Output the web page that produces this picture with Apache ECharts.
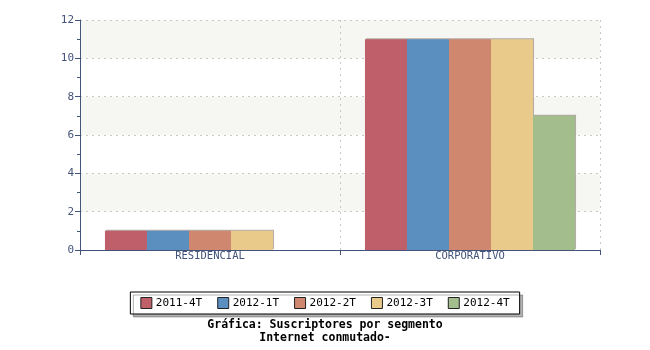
<!DOCTYPE html>
<html><head><meta charset="utf-8">
<script src="https://cdn.jsdelivr.net/npm/echarts@6/dist/echarts.min.js"></script>
<style>html,body{margin:0;padding:0;background:#fff}#c{width:650px;height:350px}</style>
</head><body><div id="c"></div>
<script>
var categories = ['RESIDENCIAL', 'CORPORATIVO'];
var seriesNames = ['2011-4T', '2012-1T', '2012-2T', '2012-3T', '2012-4T'];
var s2011_4T = [1, 11];
var s2012_1T = [1, 11];
var s2012_2T = [1, 11];
var s2012_3T = [1, 11];
var s2012_4T = [null, 7];
var yTicks = [0, 2, 4, 6, 8, 10, 12];
var values = [s2011_4T, s2012_1T, s2012_2T, s2012_3T, s2012_4T];
var colors = ['#bf5f6a', '#5b8fbf', '#d0876f', '#e9ca8b', '#a3bd8c'];
var axisColor = '#44537a';
var mono = '"DejaVu Sans Mono", monospace';

var chart = echarts.init(document.getElementById('c'));
chart.setOption({
  animation: false,
  color: colors,
  title: {
    text: 'Gráfica: Suscriptores por segmento\nInternet conmutado-',
    left: 320, textAlign: 'center', top: 314,
    textStyle: {fontFamily: mono, fontSize: 11.5, fontWeight: 'bold', color: '#000', lineHeight: 13}
  },
  legend: {
    data: seriesNames, top: 292, left: 'center',
    itemWidth: 11, itemHeight: 11, itemGap: 15,
    padding: [5, 10],
    borderColor: '#000', borderWidth: 1, backgroundColor: '#fff',
    shadowColor: 'rgba(0,0,0,0.3)', shadowOffsetX: 3, shadowOffsetY: 3, shadowBlur: 0,
    icon: 'rect',
    itemStyle: {borderColor: '#222', borderWidth: 1},
    textStyle: {fontFamily: mono, fontSize: 11, color: '#000', padding: [0, 0, 0, -1]}
  },
  grid: {left: 80, right: 50, top: 20, bottom: 100},
  xAxis: {
    type: 'category', data: categories,
    axisLine: {lineStyle: {color: axisColor, width: 1}},
    axisTick: {show: true, length: 5, lineStyle: {color: axisColor}},
    axisLabel: {fontFamily: mono, fontSize: 10.5, color: axisColor, margin: 1},
    splitLine: {show: true, lineStyle: {color: '#c8c8c8', type: [2, 4]}}
  },
  yAxis: {
    type: 'value', min: 0, max: 12, interval: 2,
    axisLine: {show: true, lineStyle: {color: axisColor, width: 1}},
    axisTick: {show: true, length: 5, lineStyle: {color: axisColor}},
    minorTick: {show: true, splitNumber: 2, length: 3, lineStyle: {color: axisColor}},
    axisLabel: {fontFamily: mono, fontSize: 11, color: axisColor, margin: 6,
      formatter: function (v) { return yTicks.indexOf(v) >= 0 ? String(v) : ''; }},
    splitLine: {show: true, lineStyle: {color: '#c8c8c8', type: [2, 4]}},
    splitArea: {show: true, areaStyle: {color: ['#ffffff', '#f6f6f2']}}
  },
  series: seriesNames.map(function (n, i) {
    return {
      name: n, type: 'bar', data: values[i],
      barGap: '0%', barCategoryGap: '19.2%',
      itemStyle: {color: colors[i], shadowColor: 'rgba(120,110,100,0.55)', shadowOffsetX: 1, shadowOffsetY: -1, shadowBlur: 0}
    };
  })
});
</script></body></html>
